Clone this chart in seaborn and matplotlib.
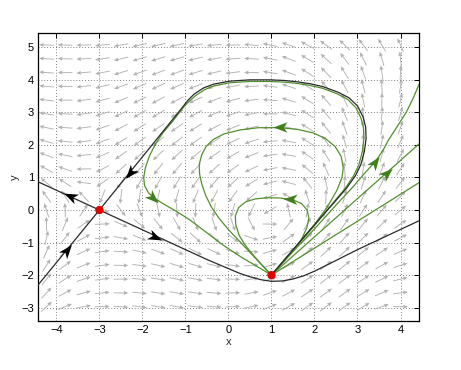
import numpy as np
import pandas as pd
import matplotlib
matplotlib.use("Agg")
import matplotlib.pyplot as plt
from matplotlib.path import Path
from matplotlib.markers import MarkerStyle
from matplotlib.transforms import Affine2D
import seaborn as sns

# equilibrium points (saddle, degenerate source)
eq_x = [-3.0, 1.0]
eq_y = [0.0, -2.0]

# black separatrices
het_x = [1.0, 1.5, 2.0, 2.45, 2.75, 2.95, 3.08, 3.16, 3.2, 3.19, 3.13, 3.0, 2.8, 2.55, 2.2, 1.9,
         1.59, 1.3, 0.97, 0.5, 0.03, -0.34, -0.58, -0.8, -0.95, -1.09, -3.0, -4.43]
het_y = [-2.0, -1.22, -0.45, 0.22, 0.68, 1.05, 1.4, 1.8, 2.2, 2.55, 2.86, 3.2, 3.45, 3.62, 3.79, 3.88,
         3.94, 3.98, 4.0, 4.0, 3.96, 3.87, 3.75, 3.56, 3.36, 3.12, 0.0, -2.31]
uns_x = [-4.43, -3.0, -0.5, 0.0, 0.25, 0.5, 0.75, 1.0, 1.25, 1.5, 1.75, 2.0, 2.5, 2.98, 4.43]
uns_y = [0.87, 0.0, -1.52, -1.8, -1.94, -2.05, -2.14, -2.19, -2.18, -2.12, -2.02, -1.88, -1.55, -1.23, -0.33]

# green orbits
outer_x = [1.0, 1.5, 2.0, 2.42, 2.71, 2.9, 3.03, 3.11, 3.15, 3.14, 3.08, 2.96, 2.77, 2.53, 2.19, 1.89,
           1.59, 1.3, 0.97, 0.5, 0.03, -0.32, -0.55, -0.76, -0.92, -1.05, -1.3, -1.52, -1.7, -1.84,
           -1.93, -1.97, -1.95, -1.86, -1.72, -1.5, -1.2, -0.9, -0.5, -0.1, 0.3, 0.65, 1.0]
outer_y = [-2.0, -1.24, -0.48, 0.2, 0.66, 1.03, 1.38, 1.78, 2.19, 2.53, 2.83, 3.15, 3.4, 3.57, 3.74, 3.83,
           3.89, 3.93, 3.95, 3.95, 3.91, 3.82, 3.7, 3.52, 3.33, 3.15, 2.72, 2.38, 2.02, 1.65,
           1.3, 1.0, 0.75, 0.53, 0.36, 0.18, -0.05, -0.3, -0.7, -1.1, -1.45, -1.72, -2.0]
mid_x = [1.0, 1.3, 1.65, 2.0, 2.3, 2.52, 2.64, 2.67, 2.62, 2.48, 2.25, 1.97, 1.6, 1.2, 0.7, 0.27, -0.1,
         -0.35, -0.52, -0.62, -0.68, -0.67, -0.62, -0.53, -0.4, -0.22, 0.0, 0.25, 0.5, 0.75, 1.0]
mid_y = [-2.0, -1.53, -1.0, -0.45, 0.1, 0.6, 1.0, 1.3, 1.65, 1.95, 2.2, 2.37, 2.48, 2.53, 2.53, 2.46, 2.34,
         2.17, 1.95, 1.7, 1.4, 1.1, 0.8, 0.45, 0.1, -0.25, -0.6, -0.95, -1.3, -1.65, -2.0]
small_x = [1.0, 1.25, 1.5, 1.7, 1.82, 1.87, 1.83, 1.7, 1.5, 1.2, 0.9, 0.62, 0.4, 0.24, 0.16, 0.17, 0.25,
           0.4, 0.6, 0.8, 1.0]
small_y = [-2.0, -1.62, -1.25, -0.9, -0.55, -0.25, 0.0, 0.2, 0.31, 0.37, 0.38, 0.34, 0.25, 0.08, -0.18,
           -0.45, -0.78, -1.1, -1.42, -1.72, -2.0]
b1_x = [1.0, 4.43]
b1_y = [-2.0, 0.84]
b2_x = [1.0, 4.43]
b2_y = [-2.0, 2.03]
b3_x = [1.0, 1.5, 2.0, 2.5, 2.9, 3.2, 3.41, 3.6, 3.72, 3.95, 4.14, 4.3, 4.43]
b3_y = [-2.0, -1.28, -0.58, 0.15, 0.72, 1.18, 1.48, 1.85, 2.15, 2.62, 3.02, 3.45, 3.86]

# arrowheads on orbits: position and direction
blk_ax = [-2.29, -3.69, -1.71, -3.76]
blk_ay = [1.13, 0.43, -0.82, -1.23]
blk_du = [-1.0, -1.0, 1.0, 1.0]
blk_dv = [-1.6, 0.61, -0.61, 1.6]
grn_ax = [-1.75, 1.2, 1.43, 3.41, 3.68]
grn_ay = [0.38, 2.54, 0.33, 1.48, 1.13]
grn_du = [0.8, -1.0, -1.0, 1.0, 1.0]
grn_dv = [-1.0, 0.0, 0.05, 1.8, 1.17]

# direction field, screen angle of the gray arrows (deg)
obs_x = [-4, -3, -2, -1, 0, 1, 2, 3, 4,
         -4, -3, -2, -1, 0, 1, 2, 3, 4,
         -4, -3, -2, -1, 0, 1, 2, 3, 4,
         -4, -3, -2, -1, 0, 1, 2, 3, 4,
         -4, -3, -2, -1, 0, 1, 2, 3, 4,
         -4, -2, -1, 0, 1, 2, 3, 4,
         -4, -3, -2, -1, 0, 1, 2, 3, 4,
         -4, -3, -2, -1, 0, 2, 3, 4,
         -4, -3, -2, -1, 0, 1, 2, 3, 4,
         -3, -3, -2.55, -3.45]
obs_y = [5] * 9 + [4] * 9 + [3] * 9 + [2] * 9 + [1] * 9 + [0] * 8 + [-1] * 9 + [-2] * 8 + [-3] * 9 + \
        [0.45, -0.45, 0, 0]
obs_ang = [182, 183, 185, 188, 185, 178, 155, 125, 97,
           183, 185, 188, 195, 188, 180, 162, 118, 92,
           185, 190, 200, 215, 192, 180, 150, 102, 86,
           178, 195, 212, 245, 200, 180, 125, 62, 70,
           130, 205, 245, 290, 205, 180, 105, 45, 40,
           100, 318, 315, 230, 180, 70, 38, 35,
           60, 5, 348, 335, 305, 140, 45, 32, 30,
           25, 10, 2, 355, 355, 32, 27, 25,
           10, 8, 6, 5, 5, 10, 15, 18, 20,
           205, 25, 295, 115]

grid_x = np.linspace(-4.23, 4.0, 20)
grid_y = np.linspace(-2.97, 5.07, 20)


def basis(x, y, deg=4):
    x = np.asarray(x, float) / 4.0
    y = np.asarray(y, float) / 4.0
    return np.column_stack([x ** i * y ** j for i in range(deg + 1) for j in range(deg + 1 - i)])


def ridge(A, b, lam=1e-3):
    return np.linalg.solve(A.T @ A + lam * np.eye(A.shape[1]), A.T @ b)


# smooth the read directions with a polynomial surface
A = basis(obs_x, obs_y)
ang = np.deg2rad(obs_ang)
cu = ridge(A, np.cos(ang))
cv = ridge(A, np.sin(ang))
GX, GY = np.meshgrid(grid_x, grid_y)
B = basis(GX.ravel(), GY.ravel())
U = B @ cu
V = B @ cv
n = np.hypot(U, V)
U, V = U / n, V / n

sns.set_theme(style="white")
plt.rcParams["font.family"] = ["Liberation Sans", "DejaVu Sans"]

fig = plt.figure(figsize=(4.61, 3.70), dpi=100)
ax = fig.add_axes([0.0831, 0.1324, 0.8258, 0.7776])

ax.quiver(GX.ravel(), GY.ravel(), U, V, angles="uv", scale_units="inches", scale=6.8,
          pivot="middle", color="#b2b2b2", width=0.0024, headwidth=4.5, headlength=5,
          headaxislength=4.5, zorder=1)

green = "#52902e"
for xs, ys in [(outer_x, outer_y), (mid_x, mid_y), (small_x, small_y),
               (b1_x, b1_y), (b2_x, b2_y), (b3_x, b3_y)]:
    sns.lineplot(x=xs, y=ys, sort=False, estimator=None, color=green, lw=0.9, ax=ax, zorder=3)
for xs, ys in [(het_x, het_y), (uns_x, uns_y)]:
    sns.lineplot(x=xs, y=ys, sort=False, estimator=None, color="#2a2a2a", lw=0.9, ax=ax, zorder=4)

# notched arrowhead marker, tip pointing along +x
head_path = Path([(1.0, 0.0), (-1.0, 0.75), (-0.45, 0.0), (-1.0, -0.75), (1.0, 0.0)],
                 [Path.MOVETO, Path.LINETO, Path.LINETO, Path.LINETO, Path.CLOSEPOLY])


def head(px, py, du, dv, col):
    rot = np.degrees(np.arctan2(dv * 32.6, du * 43))
    m = MarkerStyle(head_path, transform=Affine2D().rotate_deg(rot))
    ax.plot([px], [py], linestyle="none", marker=m, markersize=10, color=col,
            markeredgewidth=0, zorder=5)


for a in zip(blk_ax, blk_ay, blk_du, blk_dv):
    head(*a, "black")
for a in zip(grn_ax, grn_ay, grn_du, grn_dv):
    head(*a, "#3f7f1c")

eq = pd.DataFrame({"x": eq_x, "y": eq_y})
sns.scatterplot(data=eq, x="x", y="y", color="#e00000", s=36, edgecolor="none", ax=ax, zorder=6)

ax.set_xlim(-4.42, 4.43)
ax.set_ylim(-3.41, 5.43)
ax.set_xticks(range(-4, 5))
ax.set_yticks(range(-3, 6))
ax.grid(True, color="#555555", linestyle=(0, (1, 2.5)), linewidth=0.6)
ax.tick_params(direction="in", length=3.5, width=0.7, top=True, right=True,
               labelsize=8, pad=3, colors="black")
for s in ax.spines.values():
    s.set_visible(True)
    s.set_color("black")
    s.set_linewidth(0.9)
ax.set_xlabel("x", fontsize=8, labelpad=1)
ax.set_ylabel("y", fontsize=8, labelpad=1)

fig.savefig("out.png", dpi=100)
